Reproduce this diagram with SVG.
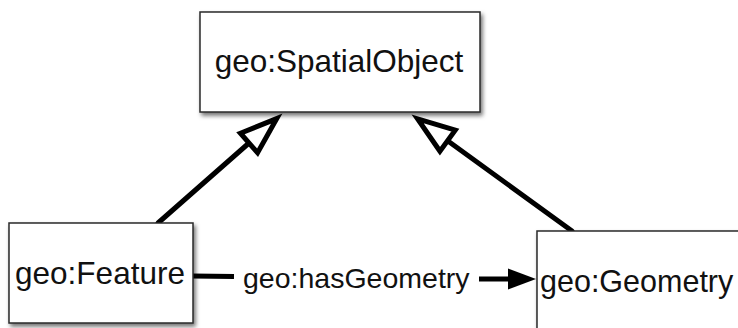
<svg xmlns="http://www.w3.org/2000/svg" width="738" height="328" viewBox="0 0 738 328">
  <style>
    .box { fill: #ffffff; stroke: #2a2a2a; stroke-width: 1.5; filter: url(#shadow); }
    .label { font-family: "Liberation Sans", Arial, Helvetica, sans-serif; font-size: 31.5px; fill: #111111; }
    .edge-label { font-family: "Liberation Sans", Arial, Helvetica, sans-serif; font-size: 28.5px; fill: #111111; }
    .edge { fill: none; stroke: #000000; stroke-width: 5; stroke-linecap: round; }
  </style>
  <defs>
    <filter id="shadow" x="-10%" y="-10%" width="130%" height="140%">
      <feDropShadow dx="2" dy="3" stdDeviation="2" flood-color="#000000" flood-opacity="0.55"/>
    </filter>
    <marker id="hollow" markerUnits="userSpaceOnUse" viewBox="-6 -22 56 44" markerWidth="56" markerHeight="44" refX="0" refY="0" orient="auto" overflow="visible">
      <path d="M0,-13 L37,0 L0,13 Z" fill="#ffffff" stroke="#000000" stroke-width="5" stroke-linejoin="miter"/>
    </marker>
    <marker id="filled" markerUnits="userSpaceOnUse" viewBox="0 -12 30 24" markerWidth="30" markerHeight="24" refX="0" refY="0" orient="auto" overflow="visible">
      <path d="M0,-10.5 L28,0 L0,10.5 Z" fill="#000000"/>
    </marker>
  </defs>

  <g id="connectors">
    <path class="edge" d="M158,223 L249,143" marker-end="url(#hollow)"/>
    <path class="edge" d="M572,231 L447.6,140.7" marker-end="url(#hollow)"/>
    <path class="edge" style="stroke-linecap:butt" d="M192,276 L234,276.5 M479,279 L508,279" marker-end="url(#filled)"/>
    <text class="edge-label" x="243" y="288">geo:hasGeometry</text>
  </g>

  <g id="node-spatialobject">
    <rect class="box" x="200" y="12" width="280" height="100"/>
    <text class="label" x="339" y="72" text-anchor="middle">geo:SpatialObject</text>
  </g>

  <g id="node-feature">
    <rect class="box" x="9" y="223" width="184" height="100"/>
    <text class="label" x="100" y="284" text-anchor="middle">geo:Feature</text>
  </g>

  <g id="node-geometry">
    <rect class="box" x="537" y="231" width="220" height="110"/>
    <text class="label" x="540" y="292" style="font-size:30.5px">geo:Geometry</text>
  </g>
</svg>
